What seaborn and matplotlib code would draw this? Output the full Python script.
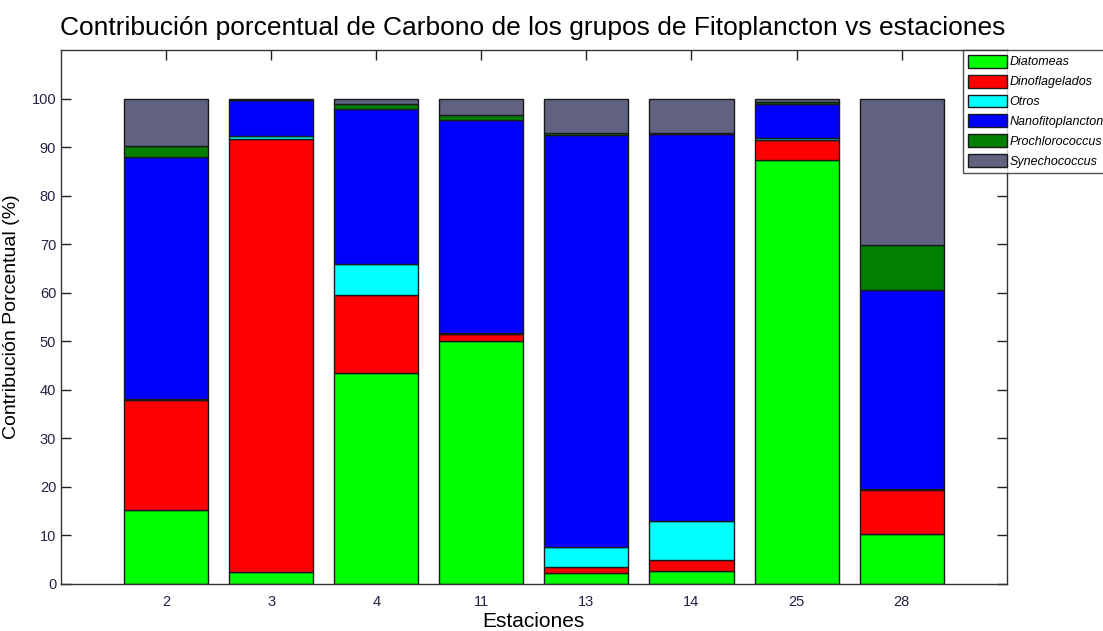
import matplotlib
matplotlib.use("Agg")
import matplotlib.pyplot as plt
import seaborn as sns
import pandas as pd
import numpy as np

stations = ["2", "3", "4", "11", "13", "14", "25", "28"]
diatomeas = [15.3, 2.5, 43.5, 50.0, 2.2, 2.7, 87.3, 10.2]
dinoflagelados = [22.7, 89.2, 16.0, 1.4, 1.2, 2.2, 4.2, 9.2]
otros = [0.2, 0.5, 6.5, 0.4, 4.2, 8.1, 0.3, 0.1]
nanofito = [49.8, 7.4, 31.9, 43.8, 84.8, 79.6, 7.0, 41.1]
prochloro = [2.3, 0.1, 1.0, 1.0, 0.5, 0.3, 0.5, 9.3]
synecho = [9.7, 0.3, 1.1, 3.4, 7.1, 7.1, 0.7, 30.1]

groups = ["Diatomeas", "Dinoflagelados", "Otros", "Nanofitoplancton",
          "Prochlorococcus", "Synechococcus"]
series = [diatomeas, dinoflagelados, otros, nanofito, prochloro, synecho]
colors = ["#00FF00", "#FF0000", "#00FFFF", "#0000FF", "#007F00", "#606280"]

sns.set_theme(style="white")
plt.rcParams["font.family"] = ["Liberation Sans", "DejaVu Sans"]
plt.rcParams["text.color"] = "black"
plt.rcParams["axes.labelcolor"] = "black"

df = pd.DataFrame({"Estacion": stations})
for g, s in zip(groups, series):
    df[g] = s

fig = plt.figure(figsize=(11.03, 6.31), dpi=100)
ax = fig.add_axes([0.0553, 0.0745, 0.8574, 0.8463])

bottom = np.zeros(len(stations))
for g, c in zip(groups, colors):
    sns.barplot(data=df, x="Estacion", y=g, color=c, bottom=bottom, ax=ax,
                width=0.8, edgecolor="#1a1a1a", linewidth=1.0, label=g,
                saturation=1)
    bottom = bottom + df[g].values

handles, labels = ax.get_legend_handles_labels()
if ax.get_legend() is not None:
    ax.get_legend().remove()

ax.set_xlim(-1, 8)
ax.set_ylim(0, 110)
ax.set_yticks(range(0, 101, 10))
ax.tick_params(axis="both", direction="in", length=7, width=1, color="#222222",
               labelsize=10.5, labelcolor="#222244", top=True, right=True,
               left=True, bottom=True)
ax.tick_params(axis="x", pad=8)
for sp in ax.spines.values():
    sp.set_color("#333333")
    sp.set_linewidth(1.0)

ax.set_xlabel("Estaciones", fontsize=15, labelpad=2, color="black")
ax.set_ylabel("Contribución Porcentual (%)", fontsize=14, labelpad=8, color="black")
fig.text(0.4825, 0.955, "Contribución porcentual de Carbono de los grupos de Fitoplancton vs estaciones",
         ha="center", va="center", fontsize=19, color="black")

leg = fig.legend(handles, labels, loc="upper left", bbox_to_anchor=(0.873, 0.921),
                 frameon=True, fancybox=False, edgecolor="#222222",
                 prop={"style": "italic", "size": 9.0}, handlelength=3.1,
                 handleheight=1.2, labelspacing=0.5, borderpad=0.4,
                 handletextpad=0.25, borderaxespad=0)
leg.get_frame().set_linewidth(1.0)
for t in leg.get_texts():
    t.set_color("black")

fig.savefig("out.png", dpi=100)
